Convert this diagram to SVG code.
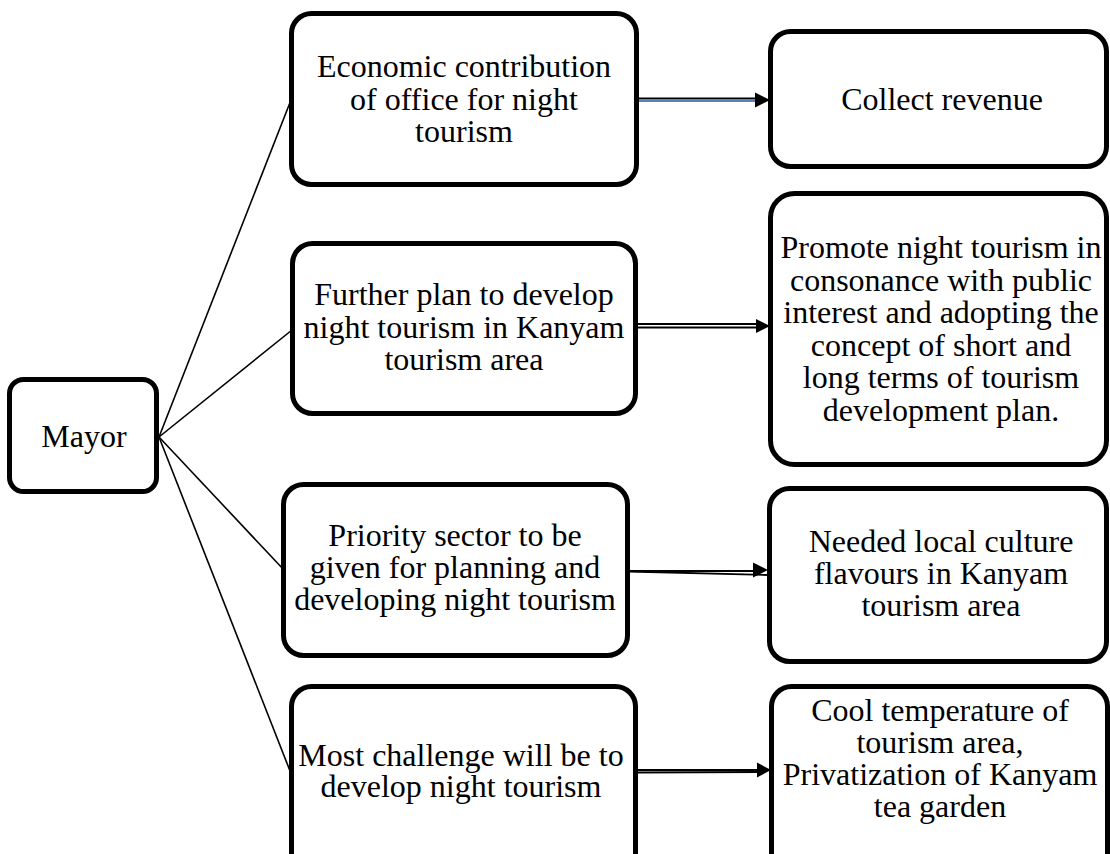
<svg xmlns="http://www.w3.org/2000/svg" width="1110" height="854" viewBox="0 0 1110 854">
  <style>
    .box { fill: #ffffff; stroke: #000000; stroke-width: 5; }
    .lbl { font-family: "Liberation Serif", "Times New Roman", serif; font-size: 32px; fill: #000000; text-anchor: middle; }
    .link { stroke: #000000; stroke-width: 1.6; fill: none; }
    .shaft { stroke: #000000; stroke-width: 1.8; fill: none; }
    .shaft-blue { stroke: #5b82b8; stroke-width: 2.2; fill: none; }
    .head { fill: #000000; }
  </style>

  <rect width="1110" height="854" fill="#ffffff"/>

  <!-- fan-out lines from the Mayor node -->
  <g id="connectors">
    <line class="link" x1="159" y1="437" x2="291" y2="100"/>
    <line class="link" x1="159" y1="437" x2="292" y2="330"/>
    <line class="link" x1="159" y1="437" x2="284" y2="570"/>
    <line class="link" x1="159" y1="437" x2="292" y2="776"/>

    <!-- row 1 arrow -->
    <line class="shaft" x1="629" y1="98.5" x2="757" y2="98.5"/>
    <line class="shaft-blue" x1="633" y1="101" x2="760" y2="101"/>
    <polygon class="head" points="770,100 755,92.5 755,107.5"/>

    <!-- row 2 arrow -->
    <line class="shaft" x1="636" y1="324" x2="758" y2="324"/>
    <line class="shaft" x1="636" y1="327.5" x2="758" y2="327.5"/>
    <polygon class="head" points="770,326 756,319 756,333"/>

    <!-- row 3 arrow -->
    <line class="shaft" x1="628" y1="571" x2="756" y2="571"/>
    <line class="shaft" x1="628" y1="571.5" x2="768" y2="575"/>
    <polygon class="head" points="768,570 753,562.5 753,577.5"/>

    <!-- row 4 arrow -->
    <line class="shaft" x1="636" y1="770" x2="760" y2="770"/>
    <line class="shaft" x1="636" y1="772.5" x2="760" y2="772"/>
    <polygon class="head" points="771,770 757,762.5 757,777.5"/>
  </g>

  <g id="mayor">
    <rect class="box" x="9.5" y="379.5" width="147" height="112" rx="14"/>
    <text class="lbl" x="84" y="447">Mayor</text>
  </g>

  <g id="economic-contribution">
    <rect class="box" x="291.5" y="13.5" width="345" height="171" rx="20"/>
    <text class="lbl" x="464" y="77">Economic contribution</text>
    <text class="lbl" x="464" y="110">of office for night</text>
    <text class="lbl" x="464" y="142">tourism</text>
  </g>

  <g id="collect-revenue">
    <rect class="box" x="770.5" y="31.5" width="336" height="135" rx="20"/>
    <text class="lbl" x="942" y="110">Collect revenue</text>
  </g>

  <g id="further-plan">
    <rect class="box" x="292.5" y="243.5" width="343" height="170" rx="20"/>
    <text class="lbl" x="464" y="305">Further plan to develop</text>
    <text class="lbl" x="464" y="338">night tourism in Kanyam</text>
    <text class="lbl" x="464" y="370">tourism area</text>
  </g>

  <g id="promote-night-tourism">
    <rect class="box" x="770.5" y="193.5" width="336" height="271" rx="24"/>
    <text class="lbl" x="941" y="258">Promote night tourism in</text>
    <text class="lbl" x="941" y="290.5">consonance with public</text>
    <text class="lbl" x="941" y="323">interest and adopting the</text>
    <text class="lbl" x="941" y="355.5">concept of short and</text>
    <text class="lbl" x="941" y="388">long terms of tourism</text>
    <text class="lbl" x="941" y="420.5">development plan.</text>
  </g>

  <g id="priority-sector">
    <rect class="box" x="283.5" y="484.5" width="344" height="171" rx="20"/>
    <text class="lbl" x="455" y="546">Priority sector to be</text>
    <text class="lbl" x="455" y="578">given for planning and</text>
    <text class="lbl" x="455" y="610">developing night tourism</text>
  </g>

  <g id="local-culture">
    <rect class="box" x="769.5" y="488.5" width="337" height="173" rx="20"/>
    <text class="lbl" x="941" y="552">Needed local culture</text>
    <text class="lbl" x="941" y="584">flavours in Kanyam</text>
    <text class="lbl" x="941" y="616">tourism area</text>
  </g>

  <g id="most-challenge">
    <rect class="box" x="291.5" y="686.5" width="344" height="190" rx="20"/>
    <text class="lbl" x="461" y="766">Most challenge will be to</text>
    <text class="lbl" x="461" y="797">develop night tourism</text>
  </g>

  <g id="cool-temperature">
    <rect class="box" x="771.5" y="686.5" width="336" height="190" rx="20"/>
    <text class="lbl" x="940" y="721">Cool temperature of</text>
    <text class="lbl" x="940" y="753">tourism area,</text>
    <text class="lbl" x="940" y="785">Privatization of Kanyam</text>
    <text class="lbl" x="940" y="817">tea garden</text>
  </g>
</svg>
